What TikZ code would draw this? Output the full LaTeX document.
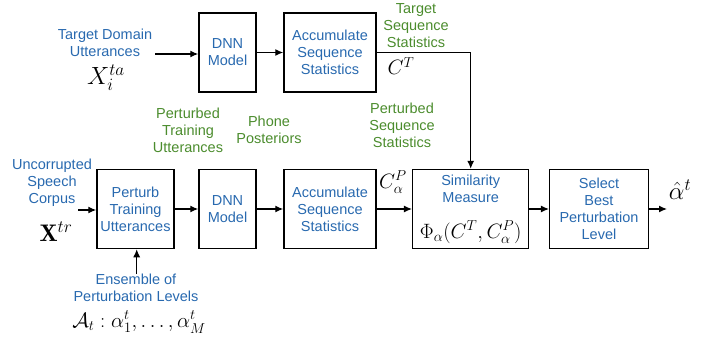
\documentclass[tikz,border=0pt]{standalone}
\usepackage{xcolor}
\usepackage{amsmath}
\usepackage{fontspec}
\usepackage{tikz}
\usetikzlibrary{positioning, arrows.meta}
\newfontfamily\labelfont{Liberation Sans}
\definecolor{boxblue}{RGB}{40,105,175}
\definecolor{labelgreen}{RGB}{75,140,45}

\begin{document}
\begin{tikzpicture}[
    x=1pt, y=-1pt,
    block/.style={rectangle, draw=black, line width=1.5pt, text=boxblue, align=center,
                  minimum height=79pt, inner sep=1pt, font=\labelfont\fontsize{14.5}{17}\selectfont},
    inlabel/.style={text=boxblue, align=center, inner sep=1pt, font=\labelfont\fontsize{14.5}{17}\selectfont},
    glabel/.style={text=labelgreen, align=center, inner sep=1pt, font=\labelfont\fontsize{14.5}{17}\selectfont},
    mathlabel/.style={inner sep=0pt, font=\fontsize{22}{26}\selectfont},
    arrow/.style={-{Latex[length=8pt, width=7pt]}, line width=1.2pt}
]
    \useasboundingbox (0,0) rectangle (715,340);

    % Target path
    \node[block, minimum width=57pt] (tgtdnn) at (227.5,52.5) {DNN\\Model};
    \node[block, minimum width=92pt] (tgtacc) at (330,52.5) {Accumulate\\Sequence\\Statistics};

    % Training path
    \node[block, minimum width=77pt] (perturb) at (135.5,209) {Perturb\\Training\\Utterances};
    \node[block, minimum width=57pt] (dnn) at (227.5,209) {DNN\\Model};
    \node[block, minimum width=92pt] (acc) at (330,209) {Accumulate\\Sequence\\Statistics};
    \node[block, minimum width=116pt] (sim) at (470.7,209) {};
    \node[inlabel, anchor=north] (simtext) at ([yshift=-5pt]sim.north) {Similarity\\Measure};
    \node[mathlabel, font=\fontsize{20}{24}\selectfont] (phi) at (470.7,232) {$\Phi_\alpha(C^T, C^P_\alpha)$};
    \node[block, minimum width=98.6pt] (select) at (599,209) {Select\\Best\\Perturbation\\Level};

    % Inputs and output
    \coordinate (tgtin) at (155,54);
    \coordinate (srcin) at (78,210);
    \coordinate (ensin) at (136.7,274);
    \coordinate (out) at (667,209);

    % Labels
    \node[inlabel] (tgtlabel) at (105,43) {Target Domain\\Utterances};
    \node[mathlabel, font=\fontsize{24}{28}\selectfont] (xta) at (106,78) {$X_i^{ta}$};
    \node[inlabel] (srclabel) at (52,183) {Uncorrupted\\Speech\\Corpus};
    \node[mathlabel, font=\fontsize{24}{28}\selectfont] (xtr) at (56,232) {$\mathbf{X}^{tr}$};
    \node[inlabel] (enslabel) at (136,288) {Ensemble of\\Perturbation Levels};
    \node[mathlabel, font=\fontsize{20}{24}\selectfont] (alist) at (139,322) {$\mathcal{A}_t:\alpha_1^t,\ldots,\alpha_M^t$};
    \node[glabel] (ptlabel) at (188,130) {Perturbed\\Training\\Utterances};
    \node[glabel] (pplabel) at (269,130) {Phone\\Posteriors};
    \node[glabel] (tslabel) at (416,26) {Target\\Sequence\\Statistics};
    \node[mathlabel] (ct) at (401,66) {$C^T$};
    \node[glabel] (pslabel) at (402,125) {Perturbed\\Sequence\\Statistics};
    \node[mathlabel] (cp) at (393,182) {$C^P_\alpha$};
    \node[mathlabel, font=\fontsize{26}{30}\selectfont] (ahat) at (680,190) {$\hat{\alpha}^t$};

    % Connections
    \draw[arrow] (tgtin) -- (tgtin -| tgtdnn.west);
    \draw[arrow] (tgtdnn) -- (tgtacc);
    \draw[arrow] (tgtacc.east) -| (sim.north);
    \draw[arrow] (srcin) -- (srcin -| perturb.west);
    \draw[arrow] (ensin) -- (ensin |- perturb.south);
    \draw[arrow] (perturb) -- (dnn);
    \draw[arrow] (dnn) -- (acc);
    \draw[arrow] (acc) -- (sim);
    \draw[arrow] (sim) -- (select);
    \draw[arrow] (select) -- (out);
\end{tikzpicture}
\end{document}
